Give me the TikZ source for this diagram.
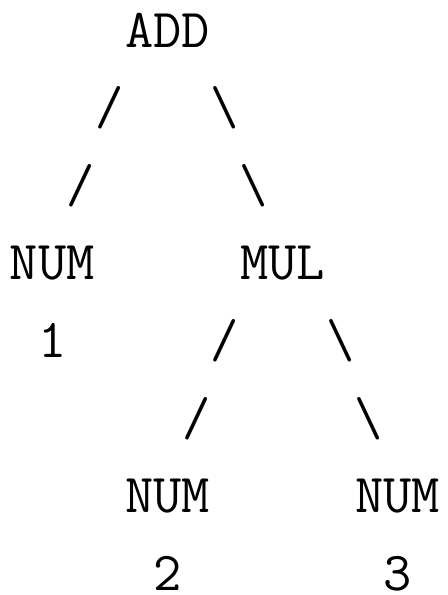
\documentclass[tikz,border=0pt]{standalone}
\usepackage{fontspec}
\usepackage{tikz}
\tikzset{
	token/.style={inner sep=0pt, anchor=base, font=\fontsize{27.43pt}{33pt}\selectfont\ttfamily},
	branch/.style={token}
}

\begin{document}
\begin{tikzpicture}[x=14.4pt, y=38.8pt]
		\useasboundingbox (-0.8125,0.6057) rectangle (14.743,-7.062);
		
		% Nodes
		\node (add) [token] at (5,0) {ADD};
		\node (addl1) [branch] at (3,-1) {/};
		\node (addr1) [branch] at (7,-1) {\textbackslash};
		\node (addl2) [branch] at (2,-2) {/};
		\node (addr2) [branch] at (8,-2) {\textbackslash};
		\node (numa) [token] at (1,-3) {NUM};
		\node (mul) [token] at (9,-3) {MUL};
		\node (vala) [token] at (1,-4) {1};
		\node (mull1) [branch] at (7,-4) {/};
		\node (mulr1) [branch] at (11,-4) {\textbackslash};
		\node (mull2) [branch] at (6,-5) {/};
		\node (mulr2) [branch] at (12,-5) {\textbackslash};
		\node (numb) [token] at (5,-6) {NUM};
		\node (numc) [token] at (13,-6) {NUM};
		\node (valb) [token] at (5,-7) {2};
		\node (valc) [token] at (13,-7) {3};
		
	\end{tikzpicture}
\end{document}
